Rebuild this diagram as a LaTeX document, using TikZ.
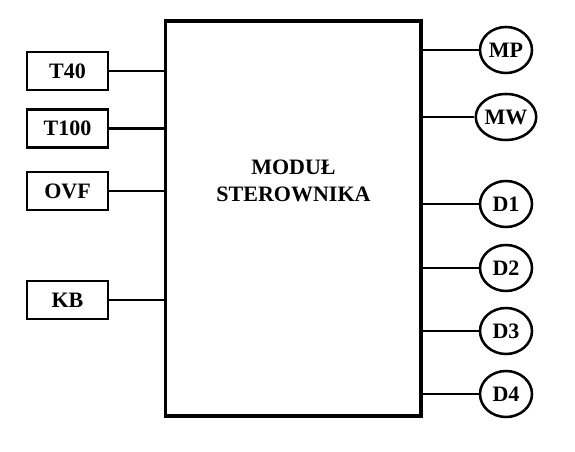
\documentclass[tikz,border=0pt]{standalone}
\usepackage{fontspec}
\setmainfont{Liberation Serif}
\usetikzlibrary{calc}
\usetikzlibrary{shapes.geometric}

\begin{document}
\begin{tikzpicture}[x=0.75pt,y=0.75pt,yscale=-1,xscale=1,
  lbl/.style={font=\fontsize{16.5}{20}\selectfont\bfseries},
  inbox/.style={draw,line width=2.2pt,minimum width=60.75pt,minimum height=28.5pt,inner sep=0pt,lbl},
  outcirc/.style={draw,ellipse,line width=1.9pt,minimum width=39pt,minimum height=34.5pt,inner sep=0pt,lbl},
  wire/.style={line width=2pt}]
\useasboundingbox (0,0) rectangle (575,452);

%Shape: Rectangle [id:modul]
\node [draw,line width=2.5pt,minimum width=191.6pt,minimum height=296.25pt,inner sep=0pt] (modul) at (293.25,218.5) {};
% Text Node
\node [lbl,align=center] (modtxt) at (293.5,181) {MODUŁ\\STEROWNIKA};

% Inputs
\node [inbox] (t40) at (67.5,71) {T40};
\node [inbox] (t100) at (67.5,128.5) {T100};
\node [inbox] (ovf) at (67.5,191) {OVF};
\node [inbox] (kb) at (67.5,300) {KB};

% Outputs
\node [outcirc] (mp) at (506,50) {MP};
\node [outcirc] (mw) at (506,117) {MW};
\node [outcirc] (d1) at (506,204) {D1};
\node [outcirc] (d2) at (506,268) {D2};
\node [outcirc] (d3) at (506,331) {D3};
\node [outcirc] (d4) at (506,394) {D4};

%Straight Lines
\foreach \n in {t40,t100,ovf,kb}
  \draw [wire] (\n.east) -- (\n.east -| modul.west);
\foreach \n in {mp,mw,d1,d2,d3,d4}
  \draw [wire] (\n.west -| modul.east) -- (\n.west);

\end{tikzpicture}
\end{document}
